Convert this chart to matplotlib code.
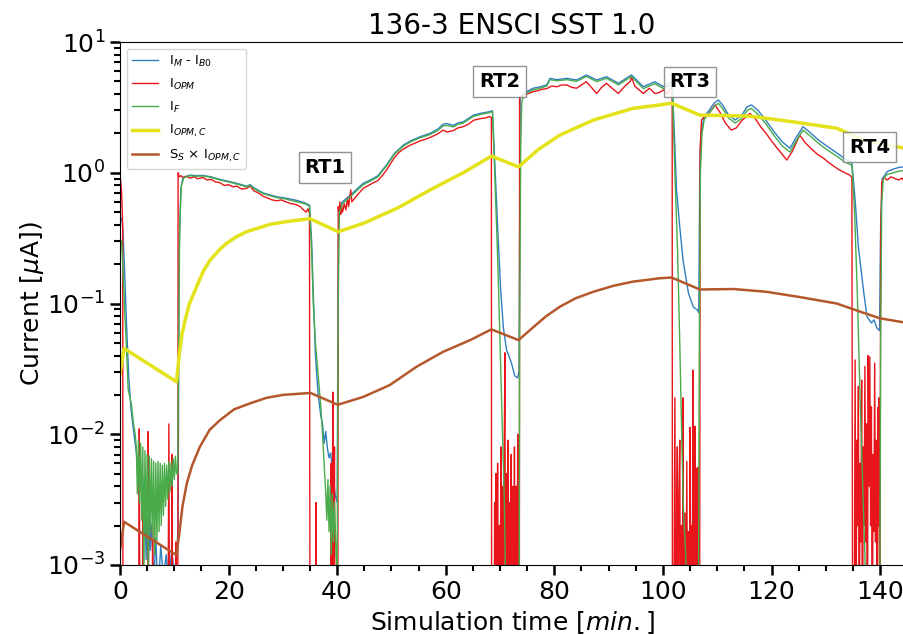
import matplotlib
matplotlib.use("Agg")
import matplotlib.pyplot as plt
from matplotlib.ticker import MultipleLocator

LOW = 1e-4  # below the axis floor: the line drops out of the plot

# I_M - I_B0 (time [min], current [uA])
i_m = [
    (0.3, 0.45), (0.5, 0.38), (0.8, 0.2), (1.2, 0.07), (1.6, 0.028), (2.0, 0.016),
    (2.4, 0.0115), (2.8, 0.0085), (3.1, 0.0067), (3.4, 0.0058), (3.6, 0.0042),
    (3.8, 0.0055), (4.0, 0.0035), (4.2, 0.0048), (4.4, 0.0022), (4.6, 0.0038),
    (4.8, 0.0011), (5.0, 0.0028), (5.2, 0.0008), (5.4, 0.0024), (5.6, 0.0013),
    (5.9, 0.0021), (6.2, 0.0007), (6.6, 0.0016), (7.0, 0.0006), (7.5, 0.0014),
    (8.0, 0.0008), (8.5, 0.0012), (9.0, 0.0007), (9.5, 0.0013), (10.0, 0.0009),
    (10.4, 0.0011),
    (10.7, 0.002), (10.9, 0.25), (11.2, 0.75), (11.6, 0.92), (12.9, 0.96), (14.0, 0.95),
    (15.3, 0.955), (16.8, 0.93), (18.4, 0.89), (20.0, 0.86), (21.5, 0.83), (23.3, 0.79),
    (24.0, 0.81), (24.6, 0.77), (26.4, 0.70), (28.9, 0.655), (30.5, 0.64), (32.5, 0.615),
    (34.0, 0.59), (34.9, 0.565),
    (35.3, 0.3), (35.6, 0.12), (36.0, 0.04), (36.5, 0.02), (37.0, 0.0137), (37.3, 0.012),
    (37.6, 0.0085), (37.9, 0.0105), (38.2, 0.0078), (38.5, 0.0066), (38.8, 0.0072),
    (39.2, 0.005), (39.6, 0.0035), (40.0, 0.003),
    (40.2, 0.3), (40.4, 0.55), (41.0, 0.6), (42.5, 0.68), (44.8, 0.83), (46.7, 0.906),
    (47.5, 0.95), (49.1, 1.15), (50.5, 1.4), (52.2, 1.63), (53.5, 1.75), (55.2, 1.88),
    (57.1, 2.0), (58.5, 2.15), (59.5, 2.35), (60.2, 2.38), (61.4, 2.3), (62.2, 2.4),
    (63.2, 2.45), (65.1, 2.76), (66.5, 2.85), (68.0, 2.93), (68.6, 2.98),
    (69.1, 1.0), (69.6, 0.35), (70.1, 0.13), (70.6, 0.066), (71.2, 0.044), (71.6, 0.04),
    (72.1, 0.035), (72.7, 0.028), (73.2, 0.027), (73.5, 0.03),
    (73.7, 3.8), (74.5, 4.1), (76.1, 4.43), (77.5, 4.55), (78.6, 4.7), (79.2, 5.27),
    (80.5, 5.15), (82.3, 5.27), (84.1, 5.12), (85.9, 5.6), (87.8, 5.12), (89.6, 5.43),
    (91.8, 4.83), (94.2, 5.6), (96.4, 4.55), (98.5, 4.97), (100.1, 4.55), (101.0, 4.83),
    (101.7, 4.9),
    (102.2, 1.6), (102.5, 0.74), (103.1, 0.386), (103.7, 0.215), (104.7, 0.12),
    (105.6, 0.094), (106.4, 0.089), (106.6, 0.085),
    (106.8, 1.2), (107.0, 2.0), (107.6, 2.68), (108.5, 3.0), (109.4, 3.4), (110.2, 3.6),
    (111.0, 3.3), (112.0, 2.8), (113.3, 2.53), (114.5, 2.75), (115.5, 3.2), (116.3, 3.3),
    (117.5, 3.0), (119.0, 2.5), (120.5, 2.05), (122.0, 1.72), (123.4, 1.54), (124.5, 1.85),
    (125.8, 2.25), (127.0, 2.05), (128.5, 1.8), (130.0, 1.62), (132.0, 1.42), (133.5, 1.28),
    (134.8, 1.2),
    (135.4, 0.62), (136.0, 0.27), (137.0, 0.12), (137.6, 0.079), (138.4, 0.071),
    (138.9, 0.075), (139.4, 0.065), (139.9, 0.062),
    (140.1, 0.4), (140.4, 0.9), (141.3, 1.02), (142.5, 1.07), (143.5, 1.1), (144.5, 1.11),
]

# I_OPM
i_opm = [
    (0.0, 1.0), (0.3, 0.7), (0.5, 0.4), (0.55, LOW), (3.4, LOW), (3.55, 0.011), (3.7, LOW),
    (4.1, LOW), (4.2, 0.0035), (4.3, LOW), (5.1, LOW), (5.2, 0.0105), (5.3, LOW),
    (5.9, LOW), (6.0, 0.002), (6.1, LOW), (8.8, LOW), (9.0, 0.012), (9.15, LOW),
    (9.5, LOW), (9.6, 0.007), (9.7, LOW), (10.2, LOW), (10.3, 0.0015), (10.5, LOW),
    (10.65, LOW), (10.7, 1.0), (10.9, 0.93), (11.2, 0.95), (11.6, 0.92), (12.2, 0.94),
    (12.9, 0.91), (13.6, 0.93), (14.3, 0.9), (15.3, 0.92), (16.0, 0.88), (16.8, 0.89),
    (17.6, 0.85), (18.4, 0.84), (19.2, 0.8), (20.0, 0.81), (20.8, 0.78), (21.5, 0.79),
    (22.4, 0.75), (23.3, 0.76), (24.0, 0.79), (24.6, 0.73), (25.5, 0.7), (26.4, 0.66),
    (27.2, 0.64), (28.0, 0.62), (28.9, 0.61), (29.7, 0.62), (30.5, 0.6), (31.5, 0.58),
    (32.5, 0.57), (33.2, 0.55), (33.8, 0.52), (34.3, 0.5), (34.6, 0.53), (34.9, 0.49),
    (35.0, LOW),
    (36.0, LOW), (36.1, 0.003), (36.2, LOW), (38.8, LOW), (38.9, 0.006), (39.0, LOW),
    (39.2, 0.021), (39.3, LOW), (39.5, 0.008), (39.6, LOW), (40.1, LOW),
    (40.2, 0.55), (40.35, 0.45), (40.5, 0.6), (40.65, 0.48), (40.8, 0.56), (41.0, 0.5),
    (41.3, 0.58), (41.6, 0.52), (41.9, 0.64), (42.1, 0.55), (42.5, 0.74), (42.7, 0.6),
    (43.5, 0.66), (44.8, 0.76), (45.8, 0.8), (46.7, 0.84), (47.5, 0.87), (48.3, 0.95),
    (49.1, 1.05), (50.5, 1.3), (51.3, 1.42), (52.2, 1.52), (53.5, 1.63), (54.3, 1.68),
    (55.2, 1.75), (56.2, 1.8), (57.1, 1.86), (58.5, 1.98), (59.5, 2.12), (60.2, 2.05),
    (61.4, 2.1), (62.2, 2.2), (63.2, 2.25), (64.2, 2.35), (65.1, 2.52), (66.5, 2.6),
    (67.3, 2.62), (68.0, 2.69), (68.4, 2.65), (68.45, LOW),
    (68.9, LOW), (69.0, 0.003), (69.1, LOW), (69.25, 0.005), (69.4, LOW), (69.55, 0.006),
    (69.7, LOW), (69.85, 0.002), (70.0, LOW), (70.15, 0.008), (70.3, LOW), (70.45, 0.004),
    (70.6, LOW), (70.75, 0.006), (70.9, 0.042), (71.0, LOW), (71.15, 0.005), (71.3, LOW),
    (71.45, 0.009), (71.6, LOW), (71.75, 0.003), (71.9, LOW), (72.05, 0.007), (72.2, LOW),
    (72.35, 0.004), (72.5, LOW), (72.65, 0.008), (72.8, LOW), (72.95, 0.004), (73.1, LOW),
    (73.25, 0.01), (73.4, LOW), (73.55, LOW),
    (73.6, 3.8), (74.5, 3.9), (75.3, 4.05), (76.1, 4.17), (77.0, 4.25), (77.8, 4.35),
    (78.6, 4.4), (79.5, 4.6), (80.5, 4.55), (81.4, 4.7), (82.3, 4.69), (83.2, 4.5),
    (84.1, 4.43), (85.0, 4.7), (85.9, 4.97), (86.8, 4.5), (87.8, 4.04), (88.7, 4.5),
    (89.6, 4.83), (90.7, 4.4), (91.8, 4.04), (93.0, 4.6), (94.0, 5.0), (94.2, 5.43),
    (94.8, 4.6), (95.6, 4.3), (96.4, 4.04), (97.5, 4.43), (98.5, 4.04), (99.3, 4.1),
    (100.1, 4.3), (100.8, 4.0), (101.3, 4.4), (101.7, 4.3), (101.75, LOW),
    (101.95, LOW), (102.2, 0.019), (102.35, LOW), (102.5, 0.0015), (102.65, 0.008),
    (102.8, LOW), (102.95, 0.0035), (103.1, 0.009), (103.25, LOW), (103.4, 0.002),
    (103.55, LOW), (103.7, 0.019), (103.85, LOW), (104.0, 0.0025), (104.15, LOW),
    (104.4, 0.0062), (104.55, LOW), (104.7, 0.0018), (104.85, LOW), (105.0, 0.0113),
    (105.15, LOW), (105.3, 0.002), (105.4, LOW), (105.5, 0.031), (105.6, LOW),
    (105.75, 0.0025), (105.9, 0.0115), (106.05, LOW), (106.2, 0.0055), (106.35, LOW),
    (106.5, 0.0056), (106.65, LOW), (106.75, LOW),
    (106.85, 1.5), (107.1, 2.53), (107.6, 2.68), (108.5, 2.85), (109.6, 3.3), (110.5, 2.9),
    (111.5, 2.4), (112.6, 2.12), (113.5, 2.2), (114.5, 2.5), (116.0, 2.84), (117.0, 2.6),
    (118.0, 2.25), (119.0, 2.0), (120.0, 1.75), (121.0, 1.55), (122.0, 1.38), (122.8, 1.25),
    (123.8, 1.45), (125.2, 1.94), (126.2, 1.7), (127.5, 1.5), (128.5, 1.38), (129.5, 1.3),
    (130.5, 1.2), (131.5, 1.12), (132.5, 1.05), (133.5, 1.0), (134.4, 0.96), (134.8, 0.92),
    (134.95, LOW),
    (135.2, LOW), (135.4, 0.037), (135.55, LOW), (135.7, 0.009), (135.85, 0.002),
    (136.0, 0.0233), (136.15, LOW), (136.3, 0.006), (136.45, 0.0015), (136.6, 0.026),
    (136.75, LOW), (136.9, 0.008), (137.05, 0.002), (137.2, 0.033), (137.35, 0.0015),
    (137.5, 0.012), (137.65, LOW), (137.8, 0.04), (137.95, 0.004), (138.1, 0.039),
    (138.25, 0.002), (138.4, 0.0162), (138.55, LOW), (138.7, 0.007), (138.85, 0.0018),
    (139.0, 0.035), (139.15, 0.0015), (139.3, 0.009), (139.45, LOW), (139.6, 0.016),
    (139.7, 0.002), (139.8, 0.019), (139.95, LOW),
    (140.1, 0.3), (140.3, 0.85), (140.7, 0.92), (141.3, 0.88), (142.0, 0.93), (142.8, 0.9),
    (143.5, 0.88), (144.0, 0.91), (144.5, 0.85),
]

# I_F
i_f = [
    (0.3, 0.3), (0.5, 0.2), (0.8, 0.1), (1.2, 0.045), (1.5, 0.022), (2.1, 0.017),
    (2.5, 0.012), (2.8, 0.01), (3.0, 0.008), (3.2, 0.0035), (3.4, 0.009), (3.6, 0.003),
    (3.8, 0.0085), (4.0, 0.0022), (4.2, 0.008), (4.4, 0.0008), (4.6, 0.0075), (4.8, 0.0016),
    (5.0, 0.007), (5.2, 0.0009), (5.4, 0.0068), (5.6, 0.0018), (5.8, 0.0065), (6.0, 0.0016),
    (6.2, 0.0062), (6.4, 0.0012), (6.6, 0.006), (6.8, 0.0015), (7.0, 0.0062), (7.2, 0.0018),
    (7.4, 0.006), (7.6, 0.002), (7.8, 0.0058), (8.0, 0.0024), (8.2, 0.006), (8.4, 0.0028),
    (8.6, 0.0058), (8.8, 0.0032), (9.0, 0.0062), (9.2, 0.0036), (9.4, 0.006), (9.6, 0.004),
    (9.8, 0.0065), (10.0, 0.0045), (10.2, 0.0068), (10.4, 0.005),
    (10.6, 0.005), (10.8, 0.05), (11.0, 0.4), (11.3, 0.8), (11.8, 0.92), (12.9, 0.95),
    (14.0, 0.94), (15.3, 0.945), (16.8, 0.92), (18.4, 0.88), (20.0, 0.85), (21.5, 0.82),
    (23.3, 0.78), (24.0, 0.8), (24.6, 0.76), (26.4, 0.69), (28.9, 0.645), (30.5, 0.63),
    (32.5, 0.6), (34.0, 0.58), (34.9, 0.556),
    (35.3, 0.25), (35.6, 0.1), (36.0, 0.05), (36.5, 0.028), (37.0, 0.016), (37.3, 0.01),
    (37.6, 0.006), (37.9, 0.0035), (38.1, 0.0022), (38.3, 0.0045), (38.5, 0.0018),
    (38.7, 0.004), (38.9, 0.0012), (39.1, 0.0035), (39.3, 0.0015), (39.5, 0.003),
    (39.8, 0.0012), (40.0, 0.001),
    (40.2, 0.1), (40.4, 0.5), (41.0, 0.58), (42.5, 0.66), (44.8, 0.81), (46.7, 0.89),
    (47.5, 0.93), (49.1, 1.13), (50.5, 1.38), (52.2, 1.6), (53.5, 1.72), (55.2, 1.85),
    (57.1, 1.96), (58.5, 2.1), (59.5, 2.28), (60.2, 2.3), (61.4, 2.24), (62.2, 2.34),
    (63.2, 2.4), (65.1, 2.7), (66.5, 2.8), (68.0, 2.88), (68.6, 2.95),
    (69.1, 0.8), (69.6, 0.2), (70.0, 0.05), (70.4, 0.013), (70.8, 0.003), (71.0, 0.0008),
    (71.2, LOW), (73.5, LOW), (73.6, 0.05), (73.8, 1.5), (74.0, 3.5),
    (74.5, 4.0), (76.1, 4.3), (77.5, 4.45), (78.6, 4.6), (79.2, 5.15), (80.5, 5.05),
    (82.3, 5.15), (84.1, 5.0), (85.9, 5.45), (87.8, 4.98), (89.6, 5.28), (91.8, 4.7),
    (94.2, 5.45), (96.4, 4.4), (98.5, 4.8), (100.1, 4.4), (101.0, 4.6), (101.7, 4.7),
    (102.2, 1.0), (102.7, 0.25), (103.1, 0.05), (103.5, 0.008), (103.8, 0.0025),
    (104.2, 0.0012), (104.6, LOW), (106.5, LOW), (106.7, 0.05), (106.9, 1.0), (107.2, 2.0),
    (107.6, 2.55), (108.5, 2.85), (109.4, 3.2), (110.2, 3.4), (111.0, 3.1), (112.0, 2.65),
    (113.3, 2.4), (114.5, 2.6), (115.5, 3.0), (116.3, 3.1), (117.5, 2.8), (119.0, 2.35),
    (120.5, 1.92), (122.0, 1.6), (123.4, 1.44), (124.5, 1.74), (125.8, 2.12), (127.0, 1.93),
    (128.5, 1.7), (130.0, 1.52), (132.0, 1.34), (133.5, 1.21), (134.8, 1.14),
    (135.3, 0.5), (135.8, 0.12), (136.3, 0.02), (136.8, 0.004), (137.2, 0.0012),
    (137.5, LOW), (139.9, LOW), (140.1, 0.05), (140.3, 0.6), (140.6, 0.9), (141.3, 0.97),
    (142.5, 1.0), (143.5, 1.03), (144.5, 1.04),
]

# I_OPM,C
i_opm_c = [
    (0.0, 0.029), (0.75, 0.0453), (10.4, 0.0252), (10.9, 0.04), (11.4, 0.058),
    (12.0, 0.0746), (12.8, 0.1), (14.1, 0.134), (15.3, 0.175), (16.6, 0.215),
    (18.4, 0.26), (19.6, 0.288), (21.5, 0.325), (23.3, 0.354), (27.6, 0.403),
    (31.3, 0.427), (35.0, 0.445), (40.2, 0.354), (44.8, 0.41), (51.0, 0.534),
    (57.1, 0.738), (63.2, 1.0), (68.4, 1.34), (73.4, 1.11), (77.0, 1.5), (81.0, 1.94),
    (87.2, 2.53), (94.5, 3.11), (99.4, 3.3), (101.6, 3.4), (106.8, 2.76), (116.0, 2.71),
    (124.0, 2.45), (132.0, 2.19), (137.0, 1.78), (144.5, 1.54),
]

# S_S x I_OPM,C
ss_opm_c = [
    (0.0, 0.0013), (0.75, 0.00214), (10.4, 0.00119), (11.0, 0.00185), (11.5, 0.0028),
    (12.3, 0.0042), (13.3, 0.0058), (14.7, 0.008), (16.5, 0.0108), (18.4, 0.0128),
    (21.0, 0.0155), (23.9, 0.0172), (27.0, 0.019), (30.0, 0.020), (35.1, 0.0207),
    (40.1, 0.0168), (44.8, 0.0193), (49.7, 0.0238), (54.6, 0.0328), (59.5, 0.0427),
    (64.5, 0.0525), (68.4, 0.0634), (73.4, 0.0525), (76.5, 0.068), (78.5, 0.08),
    (81.0, 0.0944), (84.0, 0.11), (87.2, 0.123), (91.0, 0.137), (94.5, 0.147),
    (99.4, 0.156), (101.6, 0.158), (106.8, 0.128), (113.0, 0.129), (119.0, 0.123),
    (125.2, 0.112), (132.0, 0.1), (136.9, 0.085), (140.0, 0.077), (144.5, 0.0716),
]

# return-to-zero test labels (time, current)
rt_labels = ["RT1", "RT2", "RT3", "RT4"]
rt_pos = [(37.75, 1.1), (69.9, 5.0), (105.0, 4.95), (138.1, 1.57)]


def unzip(pairs):
    return [p[0] for p in pairs], [p[1] for p in pairs]


fig = plt.figure(figsize=(9.04, 6.35), dpi=100)
ax = fig.add_axes([120 / 904, 70 / 635, 784 / 904, 523 / 635])

series = [
    (i_m, r"I$_{M}$ - I$_{B0}$", "#2f7ec0", 1.0),
    (i_opm, r"I$_{OPM}$", "#e8161b", 1.0),
    (i_f, r"I$_{F}$", "#49ab49", 1.0),
    (i_opm_c, r"I$_{OPM,C}$", "#e3e21b", 2.5),
    (ss_opm_c, r"S$_{S}$ $\times$ I$_{OPM,C}$", "#b4582c", 1.8),
]
for data, label, color, lw in series:
    t, v = unzip(data)
    ax.plot(t, v, color=color, lw=lw, label=label)

for name, (t, v) in zip(rt_labels, rt_pos):
    ax.text(t, v, name, fontsize=14, fontweight="bold", ha="center", va="center",
            zorder=5, bbox=dict(boxstyle="square,pad=0.3", fc="white", ec="gray", alpha=0.85))

ax.set_yscale("log")
ax.set_ylim(1e-3, 10)
ax.set_xlim(0, 144.4)
ax.xaxis.set_major_locator(MultipleLocator(20))
ax.xaxis.set_minor_locator(MultipleLocator(5))
ax.spines["right"].set_visible(False)
ax.tick_params(which="major", labelsize=18, length=7, width=1.8)
ax.tick_params(which="minor", length=4, width=1.5)

ax.set_xlabel(r"Simulation time [$min.$]", fontsize=18)
ax.set_ylabel(r"Current [$\mu$A])", fontsize=18, labelpad=1)
ax.set_title("136-3 ENSCI SST 1.0", fontsize=20)
ax.legend(loc="upper left", fontsize=9.5, labelspacing=0.6)

fig.savefig("out.png", dpi=100)
